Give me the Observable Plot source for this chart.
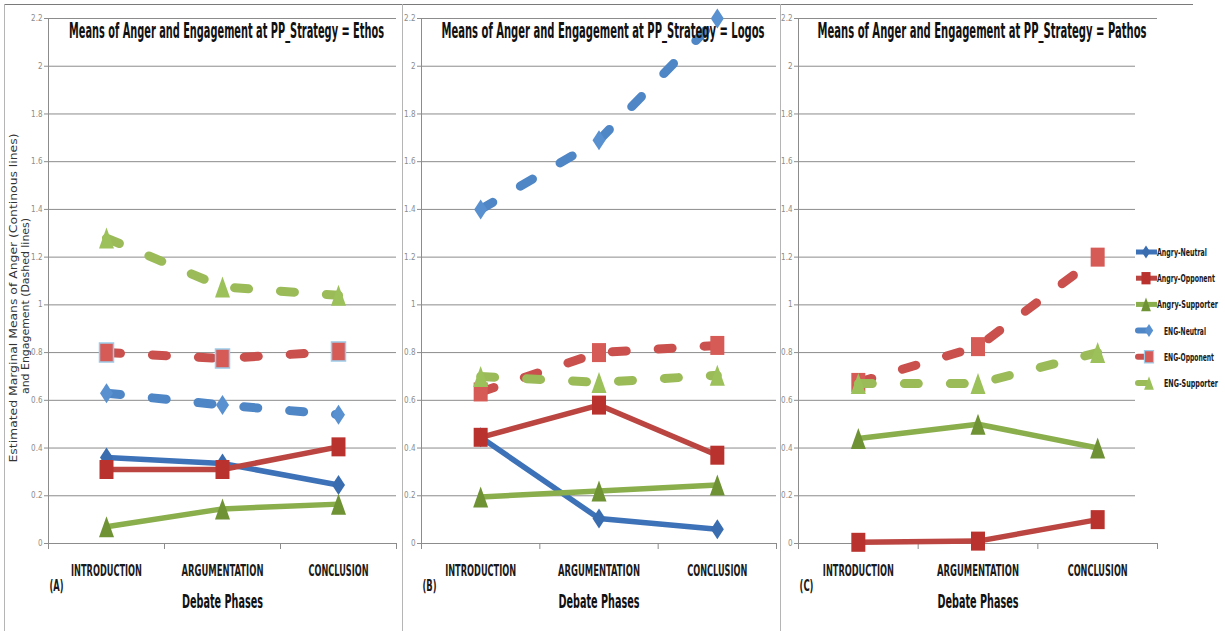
<!DOCTYPE html>
<html><head><meta charset="utf-8">
<script src="https://cdn.jsdelivr.net/npm/d3@7"></script>
<script src="https://cdn.jsdelivr.net/npm/@observablehq/plot@0.6"></script>
<style>
html,body{margin:0;padding:0;background:#fff;}
#wrap{position:relative;width:1225px;height:631px;overflow:hidden;background:#fff;}
#wrap > svg{position:absolute;top:0;}
</style></head><body><div id="wrap"></div>
<script>
// ---------- data ----------
const phases = ["INTRODUCTION", "ARGUMENTATION", "CONCLUSION"];
const strategies = ["Ethos", "Logos", "Pathos"];
const panelTags = ["(A)", "(B)", "(C)"];
const seriesNames = ["Angry-Neutral", "Angry-Opponent", "Angry-Supporter", "ENG-Neutral", "ENG-Opponent", "ENG-Supporter"];
const yTicks = [0, 0.2, 0.4, 0.6, 0.8, 1, 1.2, 1.4, 1.6, 1.8, 2, 2.2];
const ethosValues = [
  [0.36, 0.335, 0.245],
  [0.31, 0.31, 0.405],
  [0.07, 0.145, 0.165],
  [0.63, 0.58, 0.54],
  [0.80, 0.775, 0.805],
  [1.28, 1.075, 1.04]
];
const logosValues = [
  [0.445, 0.105, 0.06],
  [0.445, 0.58, 0.37],
  [0.195, 0.22, 0.245],
  [1.40, 1.69, 2.20],
  [0.635, 0.80, 0.83],
  [0.70, 0.675, 0.705]
];
const pathosValues = [
  null,
  [0.005, 0.01, 0.10],
  [0.44, 0.50, 0.40],
  null,
  [0.675, 0.825, 1.20],
  [0.67, 0.67, 0.80]
];
const yTitle = ["Estimated Marginal Means of Anger (Continous lines)", "and Engagement (Dashed lines)"];
const xTitle = "Debate Phases";
const titlePrefix = "Means of Anger and Engagement at PP_Strategy = ";

// ---------- styling ----------
const narrow = "'Liberation Sans Narrow','DejaVu Sans Condensed','Arial Narrow',sans-serif";
function sc(size){ return Math.sqrt(size/Math.PI)/6; }
const diamond = {draw(c, size){ const s=sc(size), w=6.5*s, h=10*s; c.moveTo(0,-h); c.lineTo(w,0); c.lineTo(0,h); c.lineTo(-w,0); c.closePath(); }};
const square = {draw(c, size){ const s=sc(size), w=7*s, h=9.5*s; c.moveTo(-w,-h); c.lineTo(w,-h); c.lineTo(w,h); c.lineTo(-w,h); c.closePath(); }};
const triangle = {draw(c, size){ const s=sc(size), w=7.5*s, h=10.5*s; c.moveTo(0,-h); c.lineTo(w,h); c.lineTo(-w,h); c.closePath(); }};
const seriesStyle = [
  {color:"#3d72b8", marker:"#3a6cb0", symbol:diamond, dashed:false},
  {color:"#bb4541", marker:"#b9322e", symbol:square, dashed:false},
  {color:"#8aae4c", marker:"#6f9234", symbol:triangle, dashed:false},
  {color:"#4f86c6", marker:"#5890d0", symbol:diamond, dashed:true},
  {color:"#c9504c", marker:"#d65b57", symbol:square, dashed:true},
  {color:"#9bbb59", marker:"#9cc15a", symbol:triangle, dashed:true}
];
const panels = [
  {values: ethosValues, left: 0, width: 402, ml: 48, mr: 6, oppStroke: "#9ccbe8"},
  {values: logosValues, left: 402, width: 378, ml: 19, mr: 4, oppStroke: null},
  {values: pathosValues, left: 780, width: 445, ml: 18, mr: 68, oppStroke: null}
];
const H = 631, MT = 18, MB = 88;
const fmt = d => String(+d.toFixed(1));

// rendered text widths (px) to mimic the condensed reference typeface
const textWidths = new Map([
  [titlePrefix + "Ethos", 315], [titlePrefix + "Logos", 323], [titlePrefix + "Pathos", 329],
  ["INTRODUCTION", 71], ["ARGUMENTATION", 82], ["CONCLUSION", 60],
  ["(A)", 14], ["(B)", 14], ["(C)", 14], [xTitle, 81],
  ["Angry-Neutral", 50], ["Angry-Opponent", 58], ["Angry-Supporter", 61],
  ["ENG-Neutral", 42], ["ENG-Opponent", 50], ["ENG-Supporter", 54],
  [yTitle[0], 329], [yTitle[1], 176]
]);
function condense(root){
  root.querySelectorAll("text").forEach(t => {
    const w = textWidths.get(t.textContent);
    if (w) {
      t.setAttribute("textLength", w);
      t.setAttribute("lengthAdjust", "spacingAndGlyphs");
    }
  });
}

const wrap = document.getElementById("wrap");

// frame lines
const frame = d3.select(wrap).append("svg").attr("width",1225).attr("height",631).style("left","0px");
frame.append("line").attr("x1",4).attr("x2",1193).attr("y1",4.5).attr("y2",4.5).attr("stroke","#7a7a7a");
[4.5, 402.5, 780.5].forEach(x => frame.append("line").attr("x1",x).attr("x2",x).attr("y1",4).attr("y2",631).attr("stroke","#b5b5b5"));

panels.forEach((pn, i) => {
  const rows = [];
  pn.values.forEach((vals, s) => {
    if (!vals) return;
    vals.forEach((v, p) => rows.push({s, series: seriesNames[s], p, phase: phases[p], value: v}));
  });
  const marks = [
    Plot.ruleY(yTicks, {stroke: "#8c8c8c", strokeWidth: 1}),
    Plot.ruleX([0], {stroke: "#8c8c8c", strokeWidth: 1})
  ];
  seriesNames.forEach((name, s) => {
    const d = rows.filter(r => r.s === s);
    if (!d.length) return;
    const st = seriesStyle[s];
    const lineOpts = {x: r => r.p + 0.5, y: "value", stroke: st.color, strokeWidth: st.dashed ? 9 : 5.5, strokeLinecap: "round", strokeLinejoin: "round"};
    if (st.dashed) lineOpts.strokeDasharray = "14,32";
    marks.push(Plot.line(d, lineOpts));
    const dotOpts = {x: r => r.p + 0.5, y: "value", symbol: st.symbol, r: 6, fill: st.marker, fillOpacity: 1};
    if (s === 4 && pn.oppStroke) { dotOpts.stroke = pn.oppStroke; dotOpts.strokeWidth = 1.5; }
    else { dotOpts.stroke = "none"; }
    marks.push(Plot.dot(d, dotOpts));
  });
  marks.push(Plot.text([titlePrefix + strategies[i]], {frameAnchor: "top", dx: 4, dy: 19, lineAnchor: "bottom", fontSize: 21, fontWeight: "bold", fontFamily: narrow, fill: "#111"}));
  marks.push(Plot.text(phases, {x: (d, j) => j + 0.5, frameAnchor: "bottom", dy: 32, lineAnchor: "bottom", fontSize: 16, fontWeight: "bold", fontFamily: narrow, fill: "#1a1a1a"}));
  marks.push(Plot.text([panelTags[i]], {frameAnchor: "bottom-left", dx: 1, dy: 47, textAnchor: "start", lineAnchor: "bottom", fontSize: 16, fontWeight: "bold", fontFamily: narrow, fill: "#1a1a1a"}));
  marks.push(Plot.text([xTitle], {frameAnchor: "bottom", dy: 64, lineAnchor: "bottom", fontSize: 20, fontWeight: "bold", fontFamily: narrow, fill: "#111"}));
  if (i === 0) {
    marks.push(Plot.text([yTitle[0]], {frameAnchor: "left", textAnchor: "middle", dx: -35, dy: 17, rotate: -90, fontSize: 11, fontFamily: "'DejaVu Sans',sans-serif", fill: "#333"}));
    marks.push(Plot.text([yTitle[1]], {frameAnchor: "left", textAnchor: "middle", dx: -23, dy: 25, rotate: -90, fontSize: 11, fontFamily: "'DejaVu Sans',sans-serif", fill: "#333"}));
  }
  const svg = Plot.plot({
    width: pn.width, height: H,
    marginLeft: pn.ml, marginRight: pn.mr, marginTop: MT, marginBottom: MB,
    style: {background: "transparent", color: "#8c8c8c", fontFamily: narrow, fontSize: "8px", overflow: "visible"},
    x: {type: "linear", domain: [0, phases.length], ticks: d3.range(phases.length + 1), tickFormat: () => "", tickSize: 6, label: null},
    y: {domain: [0, 2.2], ticks: yTicks, tickFormat: fmt, tickSize: 4, tickPadding: 2, label: null},
    marks
  });
  svg.style.left = pn.left + "px";
  svg.style.position = "absolute";
  svg.style.top = "0px";
  wrap.appendChild(svg);
  condense(svg);
});

// legend (white box that also hides the grid lines behind it, as in the reference)
const lg = d3.select(wrap).append("svg").attr("width", 90).attr("height", 485).style("left", "1135px").style("top", "45px");
lg.append("rect").attr("width", 90).attr("height", 485).attr("fill", "#fff");
seriesNames.forEach((name, s) => {
  const st = seriesStyle[s];
  const y = 207 + s * 26.2;
  const g = lg.append("g").attr("transform", `translate(0,${y})`);
  if (!st.dashed) {
    g.append("line").attr("x1", 1).attr("x2", 22).attr("stroke", st.color).attr("stroke-width", 5);
    g.append("path").attr("d", d3.symbol(st.symbol, Math.PI*36*0.42)()).attr("transform", "translate(11,0)").attr("fill", st.marker);
  } else {
    g.append("line").attr("x1", 3).attr("x2", 12).attr("stroke", st.color).attr("stroke-width", 6).attr("stroke-linecap", "round");
    const p = g.append("path").attr("d", d3.symbol(st.symbol, Math.PI*36*0.42)()).attr("transform", "translate(14,0)").attr("fill", st.marker);
    if (s === 4) p.attr("stroke", "#9ccbe8").attr("stroke-width", 1.2);
  }
  g.append("text").attr("x", st.dashed ? 29 : 22).attr("y", 4).text(name)
    .attr("font-family", narrow).attr("font-weight", "bold").attr("font-size", 11).attr("fill", "#1a1a1a");
});
condense(lg.node());
</script></body></html>
